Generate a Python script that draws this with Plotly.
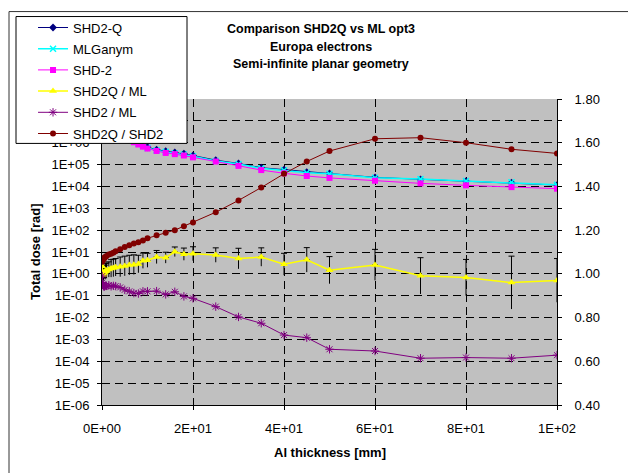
import plotly.graph_objects as go

thickness = [0.05, 0.1, 0.2, 0.3, 0.4, 0.5, 0.6, 0.8, 1, 1.5, 2, 2.5, 3, 4, 5, 6, 7, 8, 9, 10,
             12, 14, 16, 18, 20, 25, 30, 35, 40, 45, 50, 60, 70, 80, 90, 100]

shd2q = [7.9e7, 6.3e7, 4.5e7, 3.5e7, 2.8e7, 2.4e7, 2.0e7, 1.6e7, 1.26e7, 8.9e6, 6.6e6, 5.2e6,
         4.2e6, 2.8e6, 2.0e6, 1.5e6, 1.2e6, 9.5e5, 7.6e5, 6.2e5, 4.8e5, 4.1e5, 3.6e5, 3.2e5,
         2.6e5, 1.6e5, 1.12e5, 7.2e4, 5.8e4, 4.5e4, 3.9e4, 2.6e4, 2.1e4, 1.74e4, 1.48e4, 1.15e4]
mlganym = [7.7e7, 6.3e7, 4.5e7, 3.55e7, 2.8e7, 2.38e7, 1.98e7, 1.57e7, 1.24e7, 8.7e6, 6.4e6, 5.1e6,
           4.05e6, 2.73e6, 1.93e6, 1.46e6, 1.15e6, 9.1e5, 7.2e5, 5.8e5, 4.45e5, 3.8e5, 3.3e5, 2.9e5,
           2.4e5, 1.46e5, 1.05e5, 6.7e4, 5.5e4, 4.2e4, 3.8e4, 2.5e4, 2.16e4, 1.77e4, 1.54e4, 1.18e4]
shd2 = [7.4e7, 5.9e7, 4.17e7, 3.31e7, 2.63e7, 2.24e7, 1.86e7, 1.48e7, 1.17e7, 8.1e6, 6.0e6, 4.8e6,
        3.8e6, 2.5e6, 1.78e6, 1.35e6, 1.05e6, 8.3e5, 6.6e5, 5.4e5, 4.2e5, 3.4e5, 3.0e5, 2.6e5,
        2.14e5, 1.38e5, 8.7e4, 5.6e4, 4.0e4, 3.0e4, 2.45e4, 1.82e4, 1.38e4, 1.12e4, 9.3e3, 7.9e3]

ratio_q_ml = [1.035, 1.0, 0.995, 1.0, 1.005, 1.008, 1.01, 1.012, 1.015, 1.02, 1.025, 1.027,
              1.03, 1.032, 1.036, 1.04, 1.042, 1.045, 1.06, 1.062, 1.077, 1.074, 1.101, 1.09,
              1.092, 1.086, 1.07, 1.077, 1.044, 1.064, 1.017, 1.041, 0.991, 0.983, 0.96, 0.97]
ratio_q_ml_err = [0.03, 0.03, 0.03, 0.03, 0.03, 0.03, 0.03, 0.035, 0.035, 0.035, 0.04, 0.04,
                  0.04, 0.045, 0.045, 0.045, 0.045, 0.04, 0.035, 0.032, 0.03, 0.025, 0.022, 0.028,
                  0.032, 0.033, 0.047, 0.042, 0.05, 0.056, 0.062, 0.071, 0.083, 0.083, 0.121, 0.1]
ratio_2_ml = [0.99, 0.96, 0.95, 0.945, 0.943, 0.942, 0.944, 0.946, 0.945, 0.948, 0.943, 0.945,
              0.944, 0.938, 0.927, 0.92, 0.912, 0.91, 0.92, 0.92, 0.921, 0.906, 0.918, 0.897,
              0.888, 0.85, 0.803, 0.774, 0.72, 0.708, 0.655, 0.647, 0.614, 0.617, 0.614, 0.628]
ratio_q_2 = [1.055, 1.06, 1.064, 1.067, 1.07, 1.073, 1.075, 1.078, 1.082, 1.088, 1.092, 1.097,
             1.103, 1.113, 1.123, 1.131, 1.139, 1.145, 1.153, 1.163, 1.177, 1.188, 1.20, 1.218,
             1.235, 1.282, 1.336, 1.395, 1.458, 1.514, 1.562, 1.618, 1.623, 1.60, 1.57, 1.551]

left_tickvals = [10.0 ** e for e in range(-6, 9)]
# labels above 1E+06 are hidden behind the legend in the reference
left_ticktext = ["1E-06", "1E-05", "1E-04", "1E-03", "1E-02", "1E-01", "1E+00", "1E+01",
                 "1E+02", "1E+03", "1E+04", "1E+05", "1E+06", "", ""]
x_tickvals = [0, 20, 40, 60, 80, 100]
x_ticktext = ["0E+00", "2E+01", "4E+01", "6E+01", "8E+01", "1E+02"]

FONT = "Liberation Sans, Arial, sans-serif"

fig = go.Figure()

fig.add_trace(go.Scatter(x=thickness, y=shd2q, name="SHD2-Q", mode="lines+markers",
                         line=dict(color="#000080", width=1),
                         marker=dict(symbol="diamond", size=6, color="#000080"),
                         legendgroup="a", yaxis="y"))
fig.add_trace(go.Scatter(x=thickness, y=mlganym, name="MLGanym", mode="lines+markers",
                         line=dict(color="#00FFFF", width=1.5),
                         marker=dict(symbol="x-thin-open", size=6, color="#00FFFF",
                                     line=dict(color="#00FFFF", width=1.5)),
                         legendgroup="b", yaxis="y"))
fig.add_trace(go.Scatter(x=thickness, y=shd2, name="SHD-2", mode="lines+markers",
                         line=dict(color="#FF00FF", width=1),
                         marker=dict(symbol="square", size=6, color="#FF00FF"),
                         legendgroup="c", yaxis="y"))

# error bars of SHD2Q / ML : upper part with cap, lower part without cap
fig.add_trace(go.Scatter(x=thickness, y=ratio_q_ml, mode="markers", showlegend=False,
                         marker=dict(size=1, color="rgba(0,0,0,0)"),
                         error_y=dict(type="data", symmetric=False, array=ratio_q_ml_err,
                                      arrayminus=[0] * len(ratio_q_ml_err),
                                      color="black", thickness=1, width=3),
                         hoverinfo="skip", yaxis="y2"))
fig.add_trace(go.Scatter(x=thickness, y=ratio_q_ml, mode="markers", showlegend=False,
                         marker=dict(size=1, color="rgba(0,0,0,0)"),
                         error_y=dict(type="data", symmetric=False, array=[0] * len(ratio_q_ml_err),
                                      arrayminus=ratio_q_ml_err,
                                      color="black", thickness=1, width=0),
                         hoverinfo="skip", yaxis="y2"))

fig.add_trace(go.Scatter(x=thickness, y=ratio_q_ml, name="SHD2Q / ML", mode="lines+markers",
                         line=dict(color="#FFFF00", width=1.5),
                         marker=dict(symbol="triangle-up", size=7, color="#FFFF00"),
                         legendgroup="d", yaxis="y2"))
fig.add_trace(go.Scatter(x=thickness, y=ratio_2_ml, name="SHD2 / ML", mode="lines+markers",
                         line=dict(color="#800080", width=1),
                         marker=dict(symbol="asterisk-open", size=7, color="#800080",
                                     line=dict(color="#800080", width=1)),
                         legendgroup="e", yaxis="y2"))
fig.add_trace(go.Scatter(x=thickness, y=ratio_q_2, name="SHD2Q / SHD2", mode="lines+markers",
                         line=dict(color="#800000", width=1),
                         marker=dict(symbol="circle", size=6, color="#800000"),
                         legendgroup="f", yaxis="y2"))

tickfont = dict(family=FONT, size=13, color="black")

fig.update_layout(
    width=628, height=473,
    margin=dict(l=102, r=71, t=97, b=68, pad=0),
    paper_bgcolor="white",
    plot_bgcolor="#C0C0C0",
    font=dict(family=FONT, size=13, color="black"),
    showlegend=True,
    legend=dict(x=-0.1516, y=1.2825, xanchor="left", yanchor="top",
                bgcolor="rgba(0,0,0,0)", borderwidth=0,
                font=dict(family=FONT, size=13, color="black"),
                traceorder="grouped", tracegroupgap=1.3),
    xaxis=dict(range=[0, 100], tickvals=x_tickvals, ticktext=x_ticktext,
               showgrid=True, gridcolor="black", gridwidth=1, griddash="8px,5px",
               showline=True, linecolor="black", linewidth=1,
               ticks="outside", ticklen=4, tickcolor="black",
               tickfont=tickfont, ticklabelstandoff=7, zeroline=False),
    yaxis=dict(type="log", range=[-6, 8], tickvals=left_tickvals, ticktext=left_ticktext,
               showgrid=True, gridcolor="black", gridwidth=1, griddash="8px,5px",
               showline=True, linecolor="black", linewidth=1,
               ticks="outside", ticklen=4, tickcolor="black",
               tickfont=tickfont, ticklabelstandoff=5, zeroline=False),
    yaxis2=dict(overlaying="y", side="right", range=[0.4, 1.8], dtick=0.2, tick0=0.4,
                tickformat=".2f", showgrid=False, zeroline=False,
                showline=True, linecolor="black", linewidth=1,
                ticks="outside", ticklen=4, tickcolor="black",
                minor=dict(dtick=0.1, ticks="outside", ticklen=4, tickcolor="black"),
                tickfont=tickfont, ticklabelstandoff=10),
    yaxis3=dict(overlaying="y", side="right", range=[0.4, 1.8], dtick=0.1, tick0=0.4,
                showgrid=False, zeroline=False, showline=False, showticklabels=False,
                ticks="inside", ticklen=4, tickcolor="black", anchor="x"),
)

# chart area border
fig.add_shape(type="rect", xref="paper", yref="paper",
              x0=(9 - 102) / 455, x1=(700 - 102) / 455,
              y0=(405 - 520) / 308, y1=(405 - 9) / 308,
              line=dict(color="#333333", width=1), fillcolor="rgba(0,0,0,0)", layer="below")
# legend box
fig.add_shape(type="rect", xref="paper", yref="paper",
              x0=(16 - 102) / 455, x1=(187 - 102) / 455,
              y0=(405 - 141.7) / 308, y1=(405 - 14) / 308,
              line=dict(color="black", width=1), fillcolor="white", layer="above")

title_lines = ["Comparison SHD2Q vs ML opt3", "Europa electrons", "Semi-infinite planar geometry"]
title_y_px = [27, 44.5, 62]
for txt, ypx in zip(title_lines, title_y_px):
    fig.add_annotation(text="<b>" + txt + "</b>", xref="paper", yref="paper",
                       x=(321 - 102) / 455, y=(405 - ypx) / 308, xanchor="center", yanchor="middle",
                       showarrow=False, font=dict(family=FONT, size=12.5, color="black"))

fig.add_annotation(text="<b>Total dose [rad]</b>", xref="paper", yref="paper",
                   x=(35 - 102) / 455, y=0.5, xanchor="center", yanchor="middle",
                   textangle=-90, showarrow=False, font=dict(family=FONT, size=13, color="black"))
fig.add_annotation(text="<b>Al thickness [mm]</b>", xref="paper", yref="paper",
                   x=0.5, y=(405 - 453) / 308, xanchor="center", yanchor="middle",
                   showarrow=False, font=dict(family=FONT, size=13, color="black"))

fig.write_html("out.html")
